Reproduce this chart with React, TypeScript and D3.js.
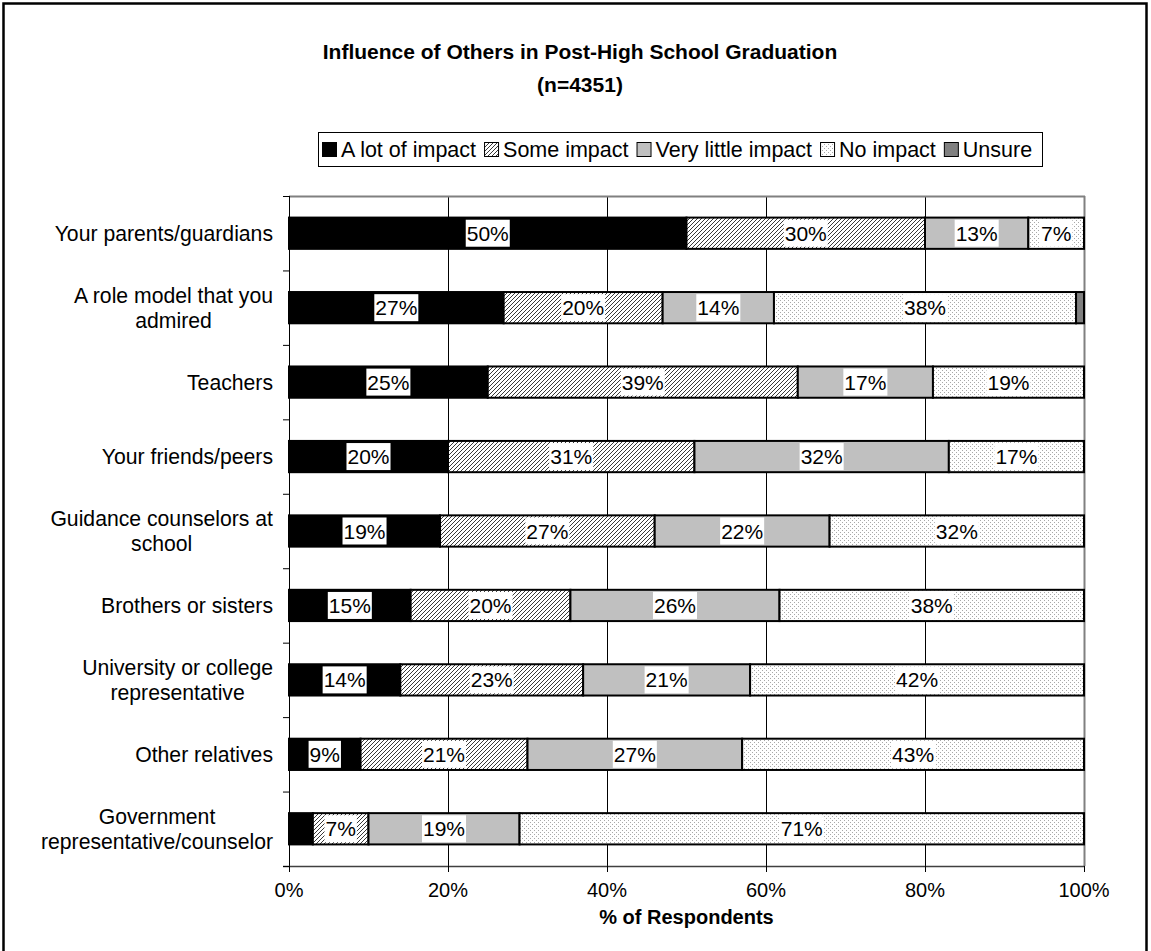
import React, { useEffect, useRef } from "react";
import * as d3 from "d3";

const categories: string[][] = [
  ["Your parents/guardians"],
  ["A role model that you", "admired"],
  ["Teachers"],
  ["Your friends/peers"],
  ["Guidance counselors at", "school"],
  ["Brothers or sisters"],
  ["University or college", "representative"],
  ["Other relatives"],
  ["Government", "representative/counselor"],
];
const seriesNames = ["A lot of impact", "Some impact", "Very little impact", "No impact", "Unsure"];
const aLotOfImpact = [50, 27, 25, 20, 19, 15.3, 14, 9, 3];
const someImpact = [30, 20, 39, 31, 27, 20.1, 23, 21, 7];
const veryLittleImpact = [13, 14, 17, 32, 22, 26.3, 21, 27, 19];
const noImpact = [7, 38, 19, 17, 32, 38.3, 42, 43, 71];
const unsure = [0, 1, 0, 0, 0, 0, 0, 0, 0];
const xTicks = [0, 20, 40, 60, 80, 100];

const FONT = "Arial, 'Liberation Sans', Helvetica, sans-serif";

export default function App() {
  const ref = useRef<SVGSVGElement>(null);
  useEffect(() => {
    const svg = d3.select(ref.current!);
    svg.selectAll("*").remove();
    const W = 1151, H = 951;
    const defs = svg.append("defs");
    const hatch = defs.append("pattern").attr("id", "hatch").attr("patternUnits", "userSpaceOnUse").attr("width", 4).attr("height", 4);
    hatch.append("rect").attr("width", 4).attr("height", 4).attr("fill", "#fff");
    hatch.append("path").attr("d", "M-1,1 l2,-2 M0,4 l4,-4 M3,5 l2,-2").attr("stroke", "#222").attr("stroke-width", 0.9);
    const dots = defs.append("pattern").attr("id", "dots").attr("patternUnits", "userSpaceOnUse").attr("width", 4).attr("height", 4);
    dots.append("rect").attr("width", 4).attr("height", 4).attr("fill", "#fff");
    dots.append("rect").attr("x", 0).attr("y", 0).attr("width", 1).attr("height", 1).attr("fill", "#a8a8a8");
    dots.append("rect").attr("x", 2).attr("y", 2).attr("width", 1).attr("height", 1).attr("fill", "#a8a8a8");

    const fills = ["#000000", "url(#hatch)", "#c0c0c0", "url(#dots)", "#808080"];
    const seriesVals = [aLotOfImpact, someImpact, veryLittleImpact, noImpact, unsure];

    svg.append("rect").attr("x", 0).attr("y", 0).attr("width", W).attr("height", H).attr("fill", "#fff");
    svg.append("rect").attr("x", 3.5).attr("y", 3.5).attr("width", 1143).attr("height", 980)
      .attr("fill", "none").attr("stroke", "#000").attr("stroke-width", 2.5);

    // title
    svg.append("text").attr("x", 580).attr("y", 59).attr("text-anchor", "middle")
      .attr("font-family", FONT).attr("font-weight", "bold").attr("font-size", 21).text("Influence of Others in Post-High School Graduation");
    svg.append("text").attr("x", 580).attr("y", 92).attr("text-anchor", "middle")
      .attr("font-family", FONT).attr("font-weight", "bold").attr("font-size", 21).text("(n=4351)");

    const left = 289, right = 1084, top = 196, bottom = 866;
    const x = d3.scaleLinear().domain([0, 100]).range([left, right]);
    const y = d3.scaleBand<number>().domain(d3.range(categories.length)).range([top, bottom]).paddingInner(0.58).paddingOuter(0.29);

    // legend
    const lg = svg.append("g");
    const lgTop = 132, lgH = 34, lgLeft = 318, lgRight = 1042;
    lg.append("rect").attr("x", lgLeft + 0.5).attr("y", lgTop + 0.5).attr("width", lgRight - lgLeft).attr("height", lgH)
      .attr("fill", "#fff").attr("stroke", "#000").attr("stroke-width", 1);
    let cx = lgLeft + 4;
    seriesNames.forEach((name, i) => {
      lg.append("rect").attr("x", cx + 0.5).attr("y", lgTop + lgH / 2 - 7 + 0.5).attr("width", 14).attr("height", 14)
        .attr("fill", fills[i]).attr("stroke", "#000").attr("stroke-width", 1);
      const t = lg.append("text").attr("x", cx + 19).attr("y", lgTop + lgH / 2 + 7.5).attr("font-family", FONT)
        .attr("font-size", 21.5).text(name);
      const w = (t.node() as SVGTextElement).getComputedTextLength();
      cx += 19 + w + 8;
    });

    // plot area
    svg.append("rect").attr("x", left).attr("y", top).attr("width", right - left).attr("height", bottom - top).attr("fill", "#fff");
    xTicks.slice(1, -1).forEach((v) => {
      svg.append("line").attr("x1", x(v) + 0.5).attr("x2", x(v) + 0.5).attr("y1", top).attr("y2", bottom).attr("stroke", "#000").attr("stroke-width", 1);
    });
    svg.append("line").attr("x1", left).attr("x2", right + 1).attr("y1", top + 0.5).attr("y2", top + 0.5).attr("stroke", "#808080").attr("stroke-width", 2);
    svg.append("line").attr("x1", right + 0.5).attr("x2", right + 0.5).attr("y1", top).attr("y2", bottom).attr("stroke", "#808080").attr("stroke-width", 2);

    // bars
    categories.forEach((_, ci) => {
      let acc = 0;
      seriesVals.forEach((arr, si) => {
        const v = arr[ci];
        if (v <= 0) return;
        const x0 = x(acc), x1 = x(acc + v);
        acc += v;
        svg.append("rect").attr("x", x0).attr("y", y(ci)!).attr("width", x1 - x0).attr("height", y.bandwidth())
          .attr("fill", fills[si]).attr("stroke", "#000").attr("stroke-width", 2);
      });
    });
    // labels
    categories.forEach((_, ci) => {
      let acc = 0;
      seriesVals.forEach((arr) => {
        const v = arr[ci];
        const mid = x(acc + v / 2);
        acc += v;
        if (v < 5) return;
        const cy = y(ci)! + y.bandwidth() / 2;
        const g = svg.append("g");
        const bg = g.append("rect").attr("fill", "#fff");
        const t = g.append("text").attr("x", mid).attr("y", cy + 7.5).attr("text-anchor", "middle")
          .attr("font-family", FONT).attr("font-size", 21).text(Math.round(v) + "%");
        const w = (t.node() as SVGTextElement).getComputedTextLength();
        bg.attr("x", mid - w / 2 - 1).attr("y", cy - 13.5).attr("width", w + 2).attr("height", 27);
      });
    });

    // axes
    svg.append("line").attr("x1", left + 0.5).attr("x2", left + 0.5).attr("y1", top).attr("y2", bottom + 6).attr("stroke", "#000").attr("stroke-width", 1);
    svg.append("line").attr("x1", left - 6).attr("x2", right + 1).attr("y1", bottom + 0.5).attr("y2", bottom + 0.5).attr("stroke", "#404040").attr("stroke-width", 1.5);
    for (let i = 0; i <= categories.length; i++) {
      const yy = top + i * ((bottom - top) / categories.length);
      svg.append("line").attr("x1", left - 6).attr("x2", left).attr("y1", yy + 0.5).attr("y2", yy + 0.5).attr("stroke", "#000");
    }
    xTicks.forEach((v) => {
      svg.append("line").attr("x1", x(v) + 0.5).attr("x2", x(v) + 0.5).attr("y1", bottom).attr("y2", bottom + 6).attr("stroke", "#000");
      svg.append("text").attr("x", x(v)).attr("y", bottom + 31).attr("text-anchor", "middle").attr("font-family", FONT)
        .attr("font-size", 20).text(v + "%");
    });
    svg.append("text").attr("x", (left + right) / 2).attr("y", bottom + 58).attr("text-anchor", "middle").attr("font-family", FONT)
      .attr("font-weight", "bold").attr("font-size", 20).text("% of Respondents");

    // category labels
    categories.forEach((lines, ci) => {
      const cy = y(ci)! + y.bandwidth() / 2;
      const lh = 25;
      const g = svg.append("g");
      const texts = lines.map((ln, li) =>
        g.append("text").attr("y", cy + 7.5 + (li - (lines.length - 1) / 2) * lh).attr("text-anchor", "middle")
          .attr("font-family", FONT).attr("font-size", 21.2).text(ln));
      const maxW = d3.max(texts, (t) => (t.node() as SVGTextElement).getComputedTextLength())!;
      const xc = 273 - maxW / 2;
      texts.forEach((t) => t.attr("x", xc));
    });
  }, []);
  return (
    <svg ref={ref} width={1151} height={951} style={{ position: "absolute", left: 0, top: 0, display: "block" }} />
  );
}
